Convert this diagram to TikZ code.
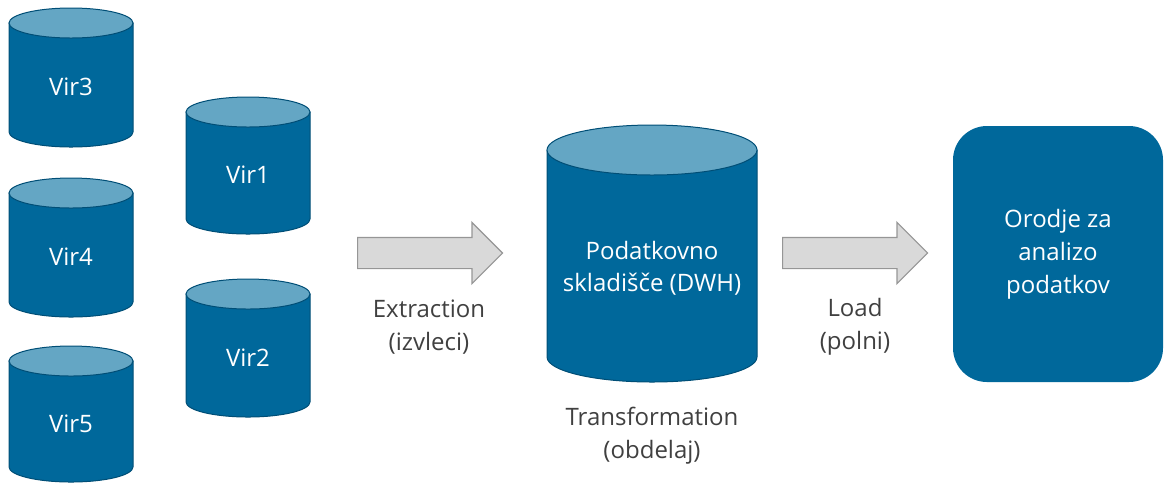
\documentclass[tikz,border=0pt]{standalone}
\usepackage{fontspec}
\setmainfont{Open Sans}
\usetikzlibrary{shapes.arrows, positioning}
\definecolor{dbbody}{RGB}{0,104,155}
\definecolor{dbtop}{RGB}{100,166,196}
\definecolor{dbline}{RGB}{0,78,118}
\definecolor{arrowfill}{RGB}{217,217,217}
\definecolor{arrowline}{RGB}{150,150,150}
\definecolor{labelgray}{RGB}{64,64,64}

\tikzset{
  dbshape/.style={draw=dbline, line width=0.5pt},
  dbtext/.style={text=white, font=\fontsize{12}{16}\selectfont, align=center, inner sep=0pt},
  blockarrow/.style={single arrow, draw=arrowline, fill=arrowfill, line width=0.6pt,
    inner xsep=0pt, inner ysep=7.5pt, single arrow head extend=7.5pt,
    single arrow tip angle=90, minimum height=72.5pt, anchor=tail},
  steplabel/.style={text=labelgray, font=\fontsize{12}{16.5}\selectfont, align=center},
  toolbox/.style={fill=dbbody, rounded corners=17pt, minimum width=105pt,
    minimum height=128pt, text=white, font=\fontsize{12}{16.5}\selectfont, align=center}
}

% cylinder: name, centre x, top y, bottom y, half width, cap half height, text
\newcommand{\dbcyl}[7]{%
  \filldraw[dbshape, fill=dbbody] (#2-#5,#3+#6) -- (#2-#5,#4-#6)
      arc[start angle=180, end angle=360, x radius=#5*0.5pt, y radius=#6*0.5pt]
      -- (#2+#5,#3+#6) -- cycle;
  \filldraw[dbshape, fill=dbtop] (#2,#3+#6) ellipse[x radius=#5*0.5pt, y radius=#6*0.5pt];
  \node[dbtext] (#1) at (#2,#3/2+#6/2+#4/2+2) {#7};
}

\begin{document}
\begin{tikzpicture}[x=0.5pt, y=-0.5pt]
    \useasboundingbox (0,0) rectangle (1165,484);

    % sources
    \dbcyl{vir3}{71}{8}{147}{62}{15}{Vir3}
    \dbcyl{vir4}{71}{178}{317}{62}{15}{Vir4}
    \dbcyl{vir5}{71}{346}{482}{62}{15}{Vir5}
    \dbcyl{vir1}{248}{97}{234}{62}{15}{Vir1}
    \dbcyl{vir2}{248}{279}{417}{62}{15}{Vir2}

    % warehouse
    \dbcyl{dwh}{652}{125}{382}{105}{25}{Podatkovno\\skladišče (DWH)}
    \node[steplabel] (transform) at (652,436) {Transformation\\(obdelaj)};

    % ETL arrows
    \node[blockarrow] (extract) at (357,253) {};
    \node[steplabel] (extractlbl) at (429,327) {Extraction\\(izvleci)};
    \node[blockarrow] (load) at (782,253) {};
    \node[steplabel] (loadlbl) at (855,327) {Load\\(polni)};

    % analysis tool
    \node[toolbox] (tool) at (1058,254) {Orodje za\\analizo\\podatkov};
\end{tikzpicture}
\end{document}
